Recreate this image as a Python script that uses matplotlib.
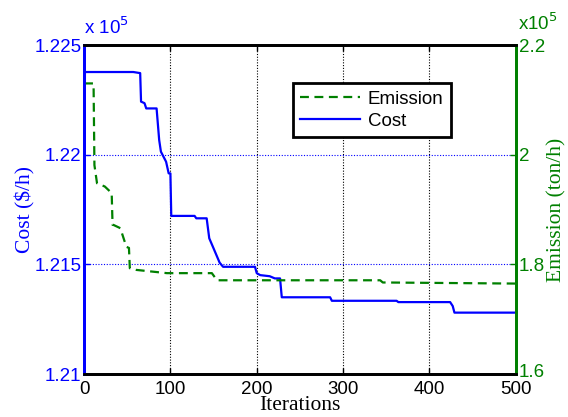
import matplotlib.pyplot as plt
from matplotlib.ticker import FormatStrFormatter
from matplotlib.transforms import ScaledTranslation

# cost curve breakpoints (x 1e5 $/h)
cost_iter = [0, 1, 57, 65, 66, 70, 72, 84, 87, 89, 95, 98, 100, 101, 128, 130,
             142, 145, 150, 157, 161, 198, 200, 204, 215, 221, 227, 229, 285,
             287, 362, 364, 424, 427, 429, 500]
cost_val = [1.2100, 1.22377, 1.22377, 1.22372, 1.22242, 1.22235, 1.22211,
            1.22211, 1.22067, 1.22014, 1.21968, 1.21915, 1.21915, 1.21721,
            1.21721, 1.21710, 1.21710, 1.21619, 1.21573, 1.21508, 1.21489,
            1.21489, 1.21460, 1.21451, 1.21446, 1.21436, 1.21436, 1.21350,
            1.21350, 1.21334, 1.21334, 1.21328, 1.21328, 1.21310, 1.21280,
            1.21280]

# emission curve breakpoints (x 1e5 ton/h)
em_iter = [0, 11, 12, 15, 24, 32, 33, 34, 42, 49, 52, 53, 60, 96, 148, 154,
           343, 346, 500]
em_val = [2.130, 2.130, 1.981, 1.948, 1.942, 1.930, 1.872, 1.872, 1.866,
          1.832, 1.830, 1.793, 1.790, 1.784, 1.784, 1.771, 1.771, 1.767, 1.765]

x_ticks = [0, 100, 200, 300, 400, 500]
cost_ticks = [1.21, 1.215, 1.22, 1.225]
em_ticks = [1.6, 1.8, 2.0, 2.2]

blue = (0, 0, 1)
green = (0, 0.5, 0)
tick_font = 'Liberation Sans'
label_font = 'Liberation Serif'

fig = plt.figure(figsize=(5.68, 4.17), dpi=100)
ax1 = fig.add_axes([0.148, 0.103, 0.760, 0.789])
ax2 = ax1.twinx()

ax1.plot(cost_iter, cost_val, color=blue, lw=1.6, label='Cost')
ax2.plot(em_iter, em_val, color=green, lw=1.6, ls=(0, (4, 2.5)), label='Emission')

ax1.set_xlim(0, 500)
ax1.set_ylim(1.21, 1.225)
ax2.set_ylim(1.6, 2.2)
ax1.set_xticks(x_ticks)
ax1.set_yticks(cost_ticks)
ax2.set_yticks(em_ticks)
ax1.yaxis.set_major_formatter(FormatStrFormatter('%g'))
ax2.yaxis.set_major_formatter(FormatStrFormatter('%g'))

# grid: vertical black dotted, horizontal blue dotted
for x in x_ticks[1:-1]:
    ax1.axvline(x, color='black', lw=0.8, ls=(0, (1, 1.5)), zorder=0)
for y in cost_ticks[1:-1]:
    ax1.axhline(y, color=blue, lw=0.8, ls=(0, (1, 1.5)), zorder=0)

for ax in (ax1, ax2):
    for s in ax.spines.values():
        s.set_linewidth(2)
    ax.spines['top'].set_color('black')
    ax.spines['bottom'].set_color('black')
    ax.spines['left'].set_color(blue)
    ax.spines['right'].set_color(green)

ax1.tick_params(axis='x', direction='in', top=True, length=4, width=1,
                labelsize=13.5, colors='black', pad=5)
ax1.tick_params(axis='y', direction='in', length=4, width=1, labelsize=13.5,
                colors=blue, pad=2)
ax2.tick_params(axis='y', direction='in', length=4, width=1, labelsize=13.5,
                colors=green, pad=2)
for lab in ax1.get_xticklabels() + ax1.get_yticklabels() + ax2.get_yticklabels():
    lab.set_family(tick_font)

# lift the bottom right label a little so it clears "500"
low = ax2.yaxis.get_major_ticks()[0].label2
low.set_transform(low.get_transform() + ScaledTranslation(0, 4 / 100, fig.dpi_scale_trans))

ax1.set_xlabel('Iterations', family=label_font, fontsize=15.5, labelpad=-1.5)
ax1.set_ylabel('Cost ($/h)', family=label_font, fontsize=15.5, color=blue, labelpad=-1)
ax2.set_ylabel('Emission (ton/h)', family=label_font, fontsize=15.5, color=green, labelpad=2)

ax1.text(0.0, 1.02, r'x 10$^5$', transform=ax1.transAxes, color=blue,
         fontsize=13.5, family=tick_font, ha='left', va='bottom')
ax2.text(1.005, 1.035, r'x10$^5$', transform=ax2.transAxes, color=green,
         fontsize=13.5, family=tick_font, ha='left', va='bottom')

h1, l1 = ax1.get_legend_handles_labels()
h2, l2 = ax2.get_legend_handles_labels()
leg = ax2.legend(h2 + h1, l2 + l1, loc='upper left', bbox_to_anchor=(0.484, 0.884),
                 fancybox=False, edgecolor='black', framealpha=1,
                 prop={'family': tick_font, 'size': 13.5}, handlelength=3.2,
                 borderpad=0.4, labelspacing=0.25, handletextpad=0.4,
                 borderaxespad=0)
leg.get_frame().set_linewidth(2)

fig.savefig('out.png', dpi=100)
